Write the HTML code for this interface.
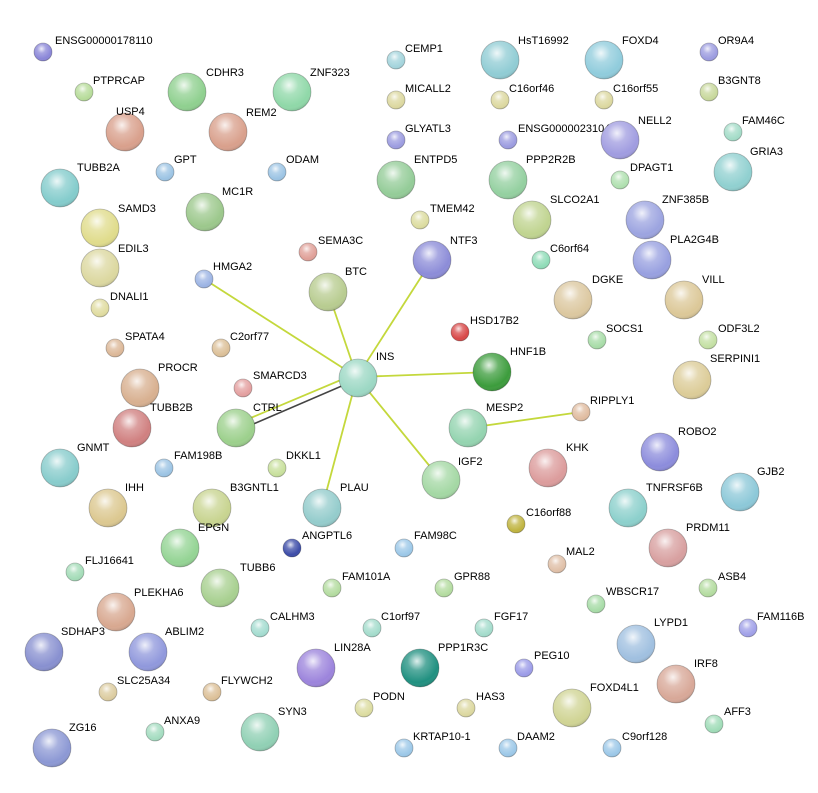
<!DOCTYPE html>
<html><head><meta charset="utf-8"><style>
html,body{margin:0;padding:0;background:#fff;}
svg{display:block;}
text{font-family:"Liberation Sans",Arial,sans-serif;font-size:11px;fill:#000;}
.n{stroke:rgba(0,0,0,0.28);stroke-width:0.8;}
</style></head><body>
<svg width="818" height="793" viewBox="0 0 818 793" xmlns="http://www.w3.org/2000/svg">
<defs>
<radialGradient id="h" cx="0.42" cy="0.32" r="0.7">
<stop offset="0" stop-color="#fff" stop-opacity="0.85"/>
<stop offset="0.35" stop-color="#fff" stop-opacity="0.25"/>
<stop offset="0.8" stop-color="#fff" stop-opacity="0"/>
<stop offset="1" stop-color="#000" stop-opacity="0.15"/>
</radialGradient>
</defs>
<g stroke="#c4d83c" stroke-width="1.8">
<line x1="357" y1="377" x2="204" y2="279"/>
<line x1="357" y1="377" x2="328" y2="292"/>
<line x1="357" y1="377" x2="432" y2="260"/>
<line x1="357" y1="377" x2="492" y2="372"/>
<line x1="357" y1="377" x2="441" y2="480"/>
<line x1="357" y1="377" x2="322" y2="508"/>
<line x1="355" y1="374" x2="234" y2="425"/>
<line x1="468" y1="428" x2="581" y2="412"/>
</g>
<line x1="358" y1="379" x2="237" y2="431" stroke="#444" stroke-width="1.6"/>
<g id="nodes">
<circle class="n" cx="43" cy="52" r="9" fill="#8a86d8"/><circle cx="43" cy="52" r="9" fill="url(#h)"/><text x="55" y="44">ENSG00000178110</text>
<circle class="n" cx="84" cy="92" r="9" fill="#b7dc9a"/><circle cx="84" cy="92" r="9" fill="url(#h)"/><text x="93" y="84">PTPRCAP</text>
<circle class="n" cx="187" cy="92" r="19" fill="#8fd08f"/><circle cx="187" cy="92" r="19" fill="url(#h)"/><text x="206" y="76">CDHR3</text>
<circle class="n" cx="292" cy="92" r="19" fill="#8fd8a8"/><circle cx="292" cy="92" r="19" fill="url(#h)"/><text x="310" y="76">ZNF323</text>
<circle class="n" cx="125" cy="132" r="19" fill="#d9a08c"/><circle cx="125" cy="132" r="19" fill="url(#h)"/><text x="116" y="115">USP4</text>
<circle class="n" cx="228" cy="132" r="19" fill="#d9a08c"/><circle cx="228" cy="132" r="19" fill="url(#h)"/><text x="246" y="116">REM2</text>
<circle class="n" cx="165" cy="172" r="9" fill="#9cc4e4"/><circle cx="165" cy="172" r="9" fill="url(#h)"/><text x="174" y="163">GPT</text>
<circle class="n" cx="277" cy="172" r="9" fill="#9cc4e4"/><circle cx="277" cy="172" r="9" fill="url(#h)"/><text x="286" y="163">ODAM</text>
<circle class="n" cx="60" cy="188" r="19" fill="#84cccc"/><circle cx="60" cy="188" r="19" fill="url(#h)"/><text x="77" y="171">TUBB2A</text>
<circle class="n" cx="100" cy="228" r="19" fill="#e0dc8c"/><circle cx="100" cy="228" r="19" fill="url(#h)"/><text x="118" y="212">SAMD3</text>
<circle class="n" cx="205" cy="212" r="19" fill="#9cc88c"/><circle cx="205" cy="212" r="19" fill="url(#h)"/><text x="222" y="195">MC1R</text>
<circle class="n" cx="100" cy="268" r="19" fill="#dcd8a0"/><circle cx="100" cy="268" r="19" fill="url(#h)"/><text x="118" y="252">EDIL3</text>
<circle class="n" cx="100" cy="308" r="9" fill="#e0dca0"/><circle cx="100" cy="308" r="9" fill="url(#h)"/><text x="110" y="300">DNALI1</text>
<circle class="n" cx="204" cy="279" r="9" fill="#9cb4e4"/><circle cx="204" cy="279" r="9" fill="url(#h)"/><text x="213" y="270">HMGA2</text>
<circle class="n" cx="308" cy="252" r="9" fill="#e0a098"/><circle cx="308" cy="252" r="9" fill="url(#h)"/><text x="318" y="244">SEMA3C</text>
<circle class="n" cx="328" cy="292" r="19" fill="#b8cc90"/><circle cx="328" cy="292" r="19" fill="url(#h)"/><text x="345" y="275">BTC</text>
<circle class="n" cx="115" cy="348" r="9" fill="#dcb898"/><circle cx="115" cy="348" r="9" fill="url(#h)"/><text x="125" y="340">SPATA4</text>
<circle class="n" cx="221" cy="348" r="9" fill="#dcc098"/><circle cx="221" cy="348" r="9" fill="url(#h)"/><text x="230" y="340">C2orf77</text>
<circle class="n" cx="140" cy="388" r="19" fill="#d8b090"/><circle cx="140" cy="388" r="19" fill="url(#h)"/><text x="158" y="371">PROCR</text>
<circle class="n" cx="243" cy="388" r="9" fill="#e4a0a0"/><circle cx="243" cy="388" r="9" fill="url(#h)"/><text x="253" y="379">SMARCD3</text>
<circle class="n" cx="132" cy="428" r="19" fill="#d08080"/><circle cx="132" cy="428" r="19" fill="url(#h)"/><text x="150" y="411">TUBB2B</text>
<circle class="n" cx="236" cy="428" r="19" fill="#9cd08c"/><circle cx="236" cy="428" r="19" fill="url(#h)"/><text x="253" y="411">CTRL</text>
<circle class="n" cx="358" cy="378" r="19" fill="#9cd8c4"/><circle cx="358" cy="378" r="19" fill="url(#h)"/><text x="376" y="360">INS</text>
<circle class="n" cx="60" cy="468" r="19" fill="#88cccc"/><circle cx="60" cy="468" r="19" fill="url(#h)"/><text x="77" y="451">GNMT</text>
<circle class="n" cx="164" cy="468" r="9" fill="#9cc4e4"/><circle cx="164" cy="468" r="9" fill="url(#h)"/><text x="174" y="459">FAM198B</text>
<circle class="n" cx="277" cy="468" r="9" fill="#c8e09c"/><circle cx="277" cy="468" r="9" fill="url(#h)"/><text x="286" y="459">DKKL1</text>
<circle class="n" cx="108" cy="508" r="19" fill="#dcc890"/><circle cx="108" cy="508" r="19" fill="url(#h)"/><text x="125" y="491">IHH</text>
<circle class="n" cx="212" cy="508" r="19" fill="#c8d490"/><circle cx="212" cy="508" r="19" fill="url(#h)"/><text x="230" y="491">B3GNTL1</text>
<circle class="n" cx="322" cy="508" r="19" fill="#94cccc"/><circle cx="322" cy="508" r="19" fill="url(#h)"/><text x="340" y="491">PLAU</text>
<circle class="n" cx="180" cy="548" r="19" fill="#94d494"/><circle cx="180" cy="548" r="19" fill="url(#h)"/><text x="198" y="531">EPGN</text>
<circle class="n" cx="292" cy="548" r="9" fill="#3c4ca8"/><circle cx="292" cy="548" r="9" fill="url(#h)"/><text x="302" y="539">ANGPTL6</text>
<circle class="n" cx="75" cy="572" r="9" fill="#a4dcb8"/><circle cx="75" cy="572" r="9" fill="url(#h)"/><text x="85" y="564">FLJ16641</text>
<circle class="n" cx="220" cy="588" r="19" fill="#a8d090"/><circle cx="220" cy="588" r="19" fill="url(#h)"/><text x="240" y="571">TUBB6</text>
<circle class="n" cx="116" cy="612" r="19" fill="#d8a890"/><circle cx="116" cy="612" r="19" fill="url(#h)"/><text x="134" y="596">PLEKHA6</text>
<circle class="n" cx="332" cy="588" r="9" fill="#b4dca0"/><circle cx="332" cy="588" r="9" fill="url(#h)"/><text x="342" y="580">FAM101A</text>
<circle class="n" cx="260" cy="628" r="9" fill="#a4dcd0"/><circle cx="260" cy="628" r="9" fill="url(#h)"/><text x="270" y="620">CALHM3</text>
<circle class="n" cx="44" cy="652" r="19" fill="#8890d0"/><circle cx="44" cy="652" r="19" fill="url(#h)"/><text x="61" y="635">SDHAP3</text>
<circle class="n" cx="148" cy="652" r="19" fill="#9098dc"/><circle cx="148" cy="652" r="19" fill="url(#h)"/><text x="165" y="635">ABLIM2</text>
<circle class="n" cx="316" cy="668" r="19" fill="#9c84dc"/><circle cx="316" cy="668" r="19" fill="url(#h)"/><text x="334" y="651">LIN28A</text>
<circle class="n" cx="108" cy="692" r="9" fill="#dccca0"/><circle cx="108" cy="692" r="9" fill="url(#h)"/><text x="117" y="684">SLC25A34</text>
<circle class="n" cx="212" cy="692" r="9" fill="#dcc098"/><circle cx="212" cy="692" r="9" fill="url(#h)"/><text x="221" y="684">FLYWCH2</text>
<circle class="n" cx="155" cy="732" r="9" fill="#a4dcc0"/><circle cx="155" cy="732" r="9" fill="url(#h)"/><text x="164" y="724">ANXA9</text>
<circle class="n" cx="260" cy="732" r="19" fill="#90d0b4"/><circle cx="260" cy="732" r="19" fill="url(#h)"/><text x="278" y="715">SYN3</text>
<circle class="n" cx="52" cy="748" r="19" fill="#8c98d4"/><circle cx="52" cy="748" r="19" fill="url(#h)"/><text x="69" y="731">ZG16</text>
<circle class="n" cx="396" cy="60" r="9" fill="#a4d4dc"/><circle cx="396" cy="60" r="9" fill="url(#h)"/><text x="405" y="52">CEMP1</text>
<circle class="n" cx="500" cy="60" r="19" fill="#90ccd4"/><circle cx="500" cy="60" r="19" fill="url(#h)"/><text x="518" y="44">HsT16992</text>
<circle class="n" cx="604" cy="60" r="19" fill="#90ccdc"/><circle cx="604" cy="60" r="19" fill="url(#h)"/><text x="622" y="44">FOXD4</text>
<circle class="n" cx="709" cy="52" r="9" fill="#9c9ce0"/><circle cx="709" cy="52" r="9" fill="url(#h)"/><text x="718" y="44">OR9A4</text>
<circle class="n" cx="396" cy="100" r="9" fill="#dcd8a0"/><circle cx="396" cy="100" r="9" fill="url(#h)"/><text x="405" y="92">MICALL2</text>
<circle class="n" cx="500" cy="100" r="9" fill="#dcd8a0"/><circle cx="500" cy="100" r="9" fill="url(#h)"/><text x="509" y="92">C16orf46</text>
<circle class="n" cx="604" cy="100" r="9" fill="#dcd8a0"/><circle cx="604" cy="100" r="9" fill="url(#h)"/><text x="613" y="92">C16orf55</text>
<circle class="n" cx="709" cy="92" r="9" fill="#c8d89c"/><circle cx="709" cy="92" r="9" fill="url(#h)"/><text x="718" y="84">B3GNT8</text>
<circle class="n" cx="396" cy="140" r="9" fill="#9c9ce0"/><circle cx="396" cy="140" r="9" fill="url(#h)"/><text x="405" y="132">GLYATL3</text>
<circle class="n" cx="508" cy="140" r="9" fill="#9c9ce0"/><circle cx="508" cy="140" r="9" fill="url(#h)"/><text x="518" y="132">ENSG00000231045</text>
<circle class="n" cx="620" cy="140" r="19" fill="#a09ce0"/><circle cx="620" cy="140" r="19" fill="url(#h)"/><text x="638" y="124">NELL2</text>
<circle class="n" cx="733" cy="132" r="9" fill="#a4dcc8"/><circle cx="733" cy="132" r="9" fill="url(#h)"/><text x="742" y="124">FAM46C</text>
<circle class="n" cx="396" cy="180" r="19" fill="#94cc98"/><circle cx="396" cy="180" r="19" fill="url(#h)"/><text x="414" y="163">ENTPD5</text>
<circle class="n" cx="508" cy="180" r="19" fill="#94d0a0"/><circle cx="508" cy="180" r="19" fill="url(#h)"/><text x="526" y="163">PPP2R2B</text>
<circle class="n" cx="620" cy="180" r="9" fill="#b0e0b0"/><circle cx="620" cy="180" r="9" fill="url(#h)"/><text x="630" y="171">DPAGT1</text>
<circle class="n" cx="733" cy="172" r="19" fill="#90d0d0"/><circle cx="733" cy="172" r="19" fill="url(#h)"/><text x="750" y="155">GRIA3</text>
<circle class="n" cx="420" cy="220" r="9" fill="#dcdca0"/><circle cx="420" cy="220" r="9" fill="url(#h)"/><text x="430" y="212">TMEM42</text>
<circle class="n" cx="532" cy="220" r="19" fill="#c0d490"/><circle cx="532" cy="220" r="19" fill="url(#h)"/><text x="550" y="203">SLCO2A1</text>
<circle class="n" cx="645" cy="220" r="19" fill="#9ca4e0"/><circle cx="645" cy="220" r="19" fill="url(#h)"/><text x="662" y="203">ZNF385B</text>
<circle class="n" cx="432" cy="260" r="19" fill="#8c8cd8"/><circle cx="432" cy="260" r="19" fill="url(#h)"/><text x="450" y="244">NTF3</text>
<circle class="n" cx="541" cy="260" r="9" fill="#90dcb8"/><circle cx="541" cy="260" r="9" fill="url(#h)"/><text x="550" y="252">C6orf64</text>
<circle class="n" cx="652" cy="260" r="19" fill="#98a0e0"/><circle cx="652" cy="260" r="19" fill="url(#h)"/><text x="670" y="243">PLA2G4B</text>
<circle class="n" cx="573" cy="300" r="19" fill="#dcc8a0"/><circle cx="573" cy="300" r="19" fill="url(#h)"/><text x="592" y="283">DGKE</text>
<circle class="n" cx="684" cy="300" r="19" fill="#dcc898"/><circle cx="684" cy="300" r="19" fill="url(#h)"/><text x="702" y="283">VILL</text>
<circle class="n" cx="460" cy="332" r="9" fill="#d84848"/><circle cx="460" cy="332" r="9" fill="url(#h)"/><text x="470" y="324">HSD17B2</text>
<circle class="n" cx="597" cy="340" r="9" fill="#a8dca8"/><circle cx="597" cy="340" r="9" fill="url(#h)"/><text x="606" y="332">SOCS1</text>
<circle class="n" cx="708" cy="340" r="9" fill="#c4e0a4"/><circle cx="708" cy="340" r="9" fill="url(#h)"/><text x="718" y="332">ODF3L2</text>
<circle class="n" cx="492" cy="372" r="19" fill="#3c9c3c"/><circle cx="492" cy="372" r="19" fill="url(#h)"/><text x="510" y="355">HNF1B</text>
<circle class="n" cx="692" cy="380" r="19" fill="#dccc98"/><circle cx="692" cy="380" r="19" fill="url(#h)"/><text x="710" y="362">SERPINI1</text>
<circle class="n" cx="581" cy="412" r="9" fill="#e0bca0"/><circle cx="581" cy="412" r="9" fill="url(#h)"/><text x="590" y="404">RIPPLY1</text>
<circle class="n" cx="468" cy="428" r="19" fill="#94d4b0"/><circle cx="468" cy="428" r="19" fill="url(#h)"/><text x="486" y="411">MESP2</text>
<circle class="n" cx="548" cy="468" r="19" fill="#dc9c9c"/><circle cx="548" cy="468" r="19" fill="url(#h)"/><text x="566" y="451">KHK</text>
<circle class="n" cx="660" cy="452" r="19" fill="#8c8cdc"/><circle cx="660" cy="452" r="19" fill="url(#h)"/><text x="678" y="435">ROBO2</text>
<circle class="n" cx="441" cy="480" r="19" fill="#a4d8a4"/><circle cx="441" cy="480" r="19" fill="url(#h)"/><text x="458" y="465">IGF2</text>
<circle class="n" cx="740" cy="492" r="19" fill="#8cc8d8"/><circle cx="740" cy="492" r="19" fill="url(#h)"/><text x="757" y="475">GJB2</text>
<circle class="n" cx="628" cy="508" r="19" fill="#8cd0cc"/><circle cx="628" cy="508" r="19" fill="url(#h)"/><text x="646" y="491">TNFRSF6B</text>
<circle class="n" cx="516" cy="524" r="9" fill="#c0b440"/><circle cx="516" cy="524" r="9" fill="url(#h)"/><text x="526" y="516">C16orf88</text>
<circle class="n" cx="668" cy="548" r="19" fill="#d8a0a0"/><circle cx="668" cy="548" r="19" fill="url(#h)"/><text x="686" y="531">PRDM11</text>
<circle class="n" cx="404" cy="548" r="9" fill="#9cc8e8"/><circle cx="404" cy="548" r="9" fill="url(#h)"/><text x="414" y="539">FAM98C</text>
<circle class="n" cx="557" cy="564" r="9" fill="#e0c0a8"/><circle cx="557" cy="564" r="9" fill="url(#h)"/><text x="566" y="555">MAL2</text>
<circle class="n" cx="444" cy="588" r="9" fill="#b4dca0"/><circle cx="444" cy="588" r="9" fill="url(#h)"/><text x="454" y="580">GPR88</text>
<circle class="n" cx="708" cy="588" r="9" fill="#b4dca0"/><circle cx="708" cy="588" r="9" fill="url(#h)"/><text x="718" y="580">ASB4</text>
<circle class="n" cx="596" cy="604" r="9" fill="#a8dca8"/><circle cx="596" cy="604" r="9" fill="url(#h)"/><text x="606" y="595">WBSCR17</text>
<circle class="n" cx="372" cy="628" r="9" fill="#a4dccc"/><circle cx="372" cy="628" r="9" fill="url(#h)"/><text x="381" y="620">C1orf97</text>
<circle class="n" cx="484" cy="628" r="9" fill="#a4dccc"/><circle cx="484" cy="628" r="9" fill="url(#h)"/><text x="494" y="620">FGF17</text>
<circle class="n" cx="748" cy="628" r="9" fill="#a0a0e8"/><circle cx="748" cy="628" r="9" fill="url(#h)"/><text x="757" y="620">FAM116B</text>
<circle class="n" cx="636" cy="644" r="19" fill="#a0c0e0"/><circle cx="636" cy="644" r="19" fill="url(#h)"/><text x="654" y="626">LYPD1</text>
<circle class="n" cx="420" cy="668" r="19" fill="#209080"/><circle cx="420" cy="668" r="19" fill="url(#h)"/><text x="438" y="651">PPP1R3C</text>
<circle class="n" cx="524" cy="668" r="9" fill="#9c9ce8"/><circle cx="524" cy="668" r="9" fill="url(#h)"/><text x="534" y="659">PEG10</text>
<circle class="n" cx="676" cy="684" r="19" fill="#d8a898"/><circle cx="676" cy="684" r="19" fill="url(#h)"/><text x="694" y="667">IRF8</text>
<circle class="n" cx="572" cy="708" r="19" fill="#d0d494"/><circle cx="572" cy="708" r="19" fill="url(#h)"/><text x="590" y="691">FOXD4L1</text>
<circle class="n" cx="364" cy="708" r="9" fill="#dcdca0"/><circle cx="364" cy="708" r="9" fill="url(#h)"/><text x="373" y="700">PODN</text>
<circle class="n" cx="466" cy="708" r="9" fill="#dcd8a0"/><circle cx="466" cy="708" r="9" fill="url(#h)"/><text x="476" y="700">HAS3</text>
<circle class="n" cx="714" cy="724" r="9" fill="#a0dcb8"/><circle cx="714" cy="724" r="9" fill="url(#h)"/><text x="724" y="715">AFF3</text>
<circle class="n" cx="404" cy="748" r="9" fill="#9cc8e8"/><circle cx="404" cy="748" r="9" fill="url(#h)"/><text x="413" y="740">KRTAP10-1</text>
<circle class="n" cx="508" cy="748" r="9" fill="#9cc8e8"/><circle cx="508" cy="748" r="9" fill="url(#h)"/><text x="517" y="740">DAAM2</text>
<circle class="n" cx="612" cy="748" r="9" fill="#9cc8e8"/><circle cx="612" cy="748" r="9" fill="url(#h)"/><text x="622" y="740">C9orf128</text>
</g>
</svg>
</body></html>
